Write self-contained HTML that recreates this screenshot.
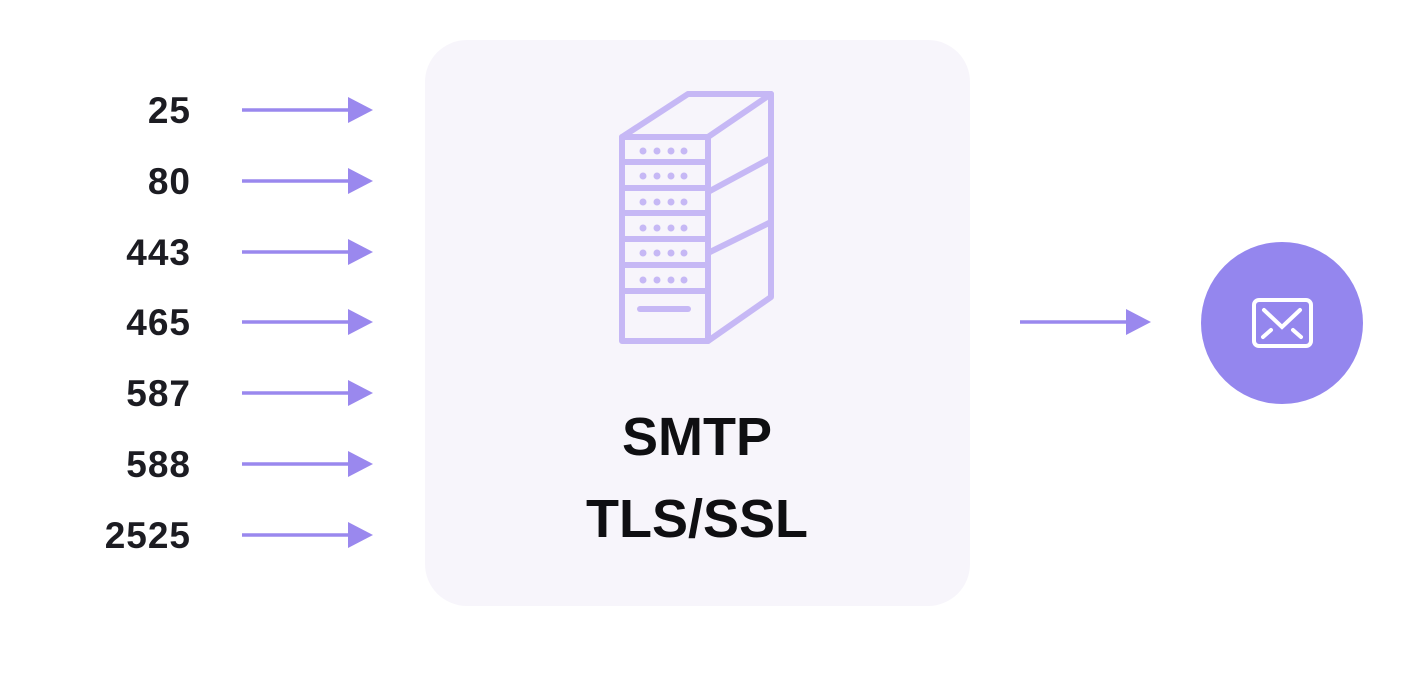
<!DOCTYPE html>
<html><head><style>
body{margin:0;width:1424px;height:687px;background:#fff;overflow:hidden;font-family:"Liberation Sans",sans-serif;}
</style></head><body>
<svg width="1424" height="687" viewBox="0 0 1424 687">
<rect x="425" y="40" width="545" height="566" rx="42" fill="#f7f5fb"/>
<g font-family="Liberation Sans, sans-serif" font-weight="bold" font-size="37" fill="#1c1c22" text-anchor="end" letter-spacing="1">
<text x="191" y="123">25</text>
<text x="191" y="194">80</text>
<text x="191" y="265">443</text>
<text x="191" y="335">465</text>
<text x="191" y="406">587</text>
<text x="191" y="477">588</text>
<text x="191" y="548">2525</text>
</g>
<g stroke="#9a88ee" stroke-width="3.5" fill="#9a88ee">
<line x1="242" y1="110" x2="355" y2="110"/><polygon points="348,97 373,110 348,123" stroke="none"/>
<line x1="242" y1="181" x2="355" y2="181"/><polygon points="348,168 373,181 348,194" stroke="none"/>
<line x1="242" y1="252" x2="355" y2="252"/><polygon points="348,239 373,252 348,265" stroke="none"/>
<line x1="242" y1="322" x2="355" y2="322"/><polygon points="348,309 373,322 348,335" stroke="none"/>
<line x1="242" y1="393" x2="355" y2="393"/><polygon points="348,380 373,393 348,406" stroke="none"/>
<line x1="242" y1="464" x2="355" y2="464"/><polygon points="348,451 373,464 348,477" stroke="none"/>
<line x1="242" y1="535" x2="355" y2="535"/><polygon points="348,522 373,535 348,548" stroke="none"/>
<line x1="1020" y1="322" x2="1133" y2="322"/><polygon points="1126,309 1151,322 1126,335" stroke="none"/>
</g>
<g stroke="#c6b8f5" stroke-width="6" fill="none" stroke-linejoin="round" stroke-linecap="round">
<rect x="622" y="137" width="86" height="204"/>
<polyline points="622,137 688,94 771,94 771,297 708,341"/>
<line x1="708" y1="137" x2="771" y2="94"/>
<line x1="708" y1="192" x2="771" y2="158"/>
<line x1="708" y1="253" x2="771" y2="222"/>
<line x1="622" y1="162" x2="708" y2="162"/>
<line x1="622" y1="188" x2="708" y2="188"/>
<line x1="622" y1="213" x2="708" y2="213"/>
<line x1="622" y1="239" x2="708" y2="239"/>
<line x1="622" y1="265" x2="708" y2="265"/>
<line x1="622" y1="291" x2="708" y2="291"/>
<line x1="640" y1="309" x2="688" y2="309"/>
</g>
<g fill="#c6b8f5">
<circle cx="643" cy="151" r="3.5"/><circle cx="657" cy="151" r="3.5"/><circle cx="671" cy="151" r="3.5"/><circle cx="684" cy="151" r="3.5"/>
<circle cx="643" cy="176" r="3.5"/><circle cx="657" cy="176" r="3.5"/><circle cx="671" cy="176" r="3.5"/><circle cx="684" cy="176" r="3.5"/>
<circle cx="643" cy="202" r="3.5"/><circle cx="657" cy="202" r="3.5"/><circle cx="671" cy="202" r="3.5"/><circle cx="684" cy="202" r="3.5"/>
<circle cx="643" cy="228" r="3.5"/><circle cx="657" cy="228" r="3.5"/><circle cx="671" cy="228" r="3.5"/><circle cx="684" cy="228" r="3.5"/>
<circle cx="643" cy="253" r="3.5"/><circle cx="657" cy="253" r="3.5"/><circle cx="671" cy="253" r="3.5"/><circle cx="684" cy="253" r="3.5"/>
<circle cx="643" cy="280" r="3.5"/><circle cx="657" cy="280" r="3.5"/><circle cx="671" cy="280" r="3.5"/><circle cx="684" cy="280" r="3.5"/>
</g>
<g font-family="Liberation Sans, sans-serif" font-weight="bold" font-size="54" fill="#0f0f12" text-anchor="middle">
<text x="697" y="455">SMTP</text>
<text x="697" y="537">TLS/SSL</text>
</g>
<circle cx="1282" cy="323" r="81" fill="#9486ee"/>
<g stroke="#fff" stroke-width="4" fill="none" stroke-linecap="round">
<rect x="1254" y="300" width="57" height="46" rx="5"/>
<polyline points="1264,310 1282,327 1300,310"/>
<line x1="1263" y1="337" x2="1271" y2="330"/>
<line x1="1301" y1="337" x2="1293" y2="330"/>
</g>
</svg>
</body></html>
